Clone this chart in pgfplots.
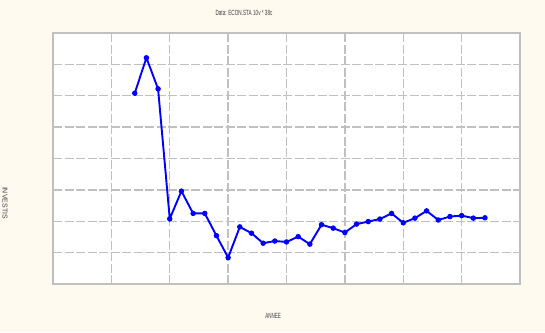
\documentclass[border=0pt]{standalone}
\usepackage{fontspec}
\setmainfont{Liberation Sans}
\usepackage{pgfplots}
\pgfplotsset{compat=1.18}
\definecolor{bgcream}{RGB}{255,250,240}
\definecolor{gridgray}{RGB}{192,192,192}
\definecolor{lineblue}{RGB}{0,0,255}
\begin{document}
\begin{tikzpicture}[x=1pt,y=1pt]
\useasboundingbox (0,0) rectangle (545,332);
\clip (0,0) rectangle (545,332);
\fill[bgcream] (0,0) rectangle (545,332);
\begin{axis}[at={(53pt,48pt)}, anchor=south west, scale only axis,
  width=467pt, height=251pt,
  xmin=0, xmax=40, ymin=0, ymax=8,
  xtick={0,5,...,40}, ytick={0,1,...,8},
  xticklabels={}, yticklabels={},
  major tick length=0pt,
  grid=major,
  major grid style={draw=gridgray, line width=1.3pt, dash pattern=on 9pt off 2.5pt},
  axis line style={draw=gridgray, line width=1.3pt},
  axis background/.style={fill=white},
  clip=false]
\addplot[color=lineblue, line width=1.9pt, mark=*, mark size=2.2pt, mark options={fill=lineblue, line width=1pt}] coordinates {
(7,6.08) (8,7.21) (9,6.22) (10,2.08) (11,2.96) (12,2.25) (13,2.25) (14,1.54) (15,0.84)
(16,1.82) (17,1.62) (18,1.30) (19,1.37) (20,1.34) (21,1.51) (22,1.27) (23,1.89) (24,1.78)
(25,1.64) (26,1.91) (27,1.99) (28,2.07) (29,2.25) (30,1.95) (31,2.10) (32,2.33) (33,2.04)
(34,2.15) (35,2.18) (36,2.10) (37,2.11)};
\end{axis}
\node[font=\fontsize{7.5}{8}\selectfont, text=black!75] at (244,319) {\scalebox{0.62}[1]{Data: ECON.STA 10v * 38c}};
\node[font=\fontsize{7.5}{8}\selectfont, text=black!75] at (273,16) {\scalebox{0.6}[1]{ANNEE}};
\node[font=\fontsize{7}{8}\selectfont, text=black!75, rotate=-90] at (5,129) {INVESTIS};
\end{tikzpicture}
\end{document}
